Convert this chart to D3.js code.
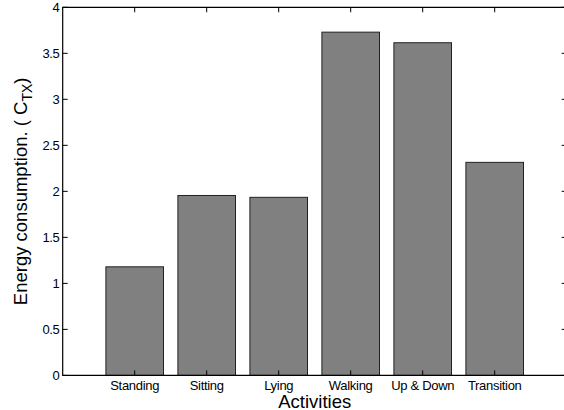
<!DOCTYPE html>
<html><head><meta charset="utf-8">
<script src="https://cdn.jsdelivr.net/npm/d3@7"></script>
<style>body{margin:0;background:#fff}svg{display:block}text{font-family:"Liberation Sans",Arial,sans-serif}</style>
</head><body><svg id="c" width="564" height="410"></svg>
<script>
const categories = ["Standing","Sitting","Lying","Walking","Up & Down","Transition"];
const values = [1.18, 1.955, 1.935, 3.73, 3.615, 2.315];
const yTicks = [0,0.5,1,1.5,2,2.5,3,3.5,4];
const yTickLabels = ["0","0.5","1","1.5","2","2.5","3","3.5","4"];

const svg = d3.select("#c");
const L = 62.7, R = 566.7, T = 7.3, B = 375.4;
const x = d3.scaleLinear().domain([0,7]).range([L,R]);
const y = d3.scaleLinear().domain([0,4]).range([B,T]);
const bw = (x(1)-x(0))*0.8;

svg.append("g").selectAll("rect").data(values).join("rect")
  .attr("x",(d,i)=>x(i+1)-bw/2).attr("y",d=>y(d))
  .attr("width",bw).attr("height",d=>y(0)-y(d))
  .attr("fill","#808080").attr("stroke","#222").attr("stroke-width",1);

const g = svg.append("g");
// box
g.append("path").attr("d",`M${L},${T}H${R}V${B}H${L}Z`).attr("fill","none").attr("stroke","#000").attr("stroke-width",1.2);
// y ticks
const yt = g.selectAll(".yt").data(yTicks).join("g");
yt.append("line").attr("x1",L).attr("x2",L+5).attr("y1",d=>y(d)).attr("y2",d=>y(d)).attr("stroke","#000");
yt.append("line").attr("x1",R).attr("x2",R-5).attr("y1",d=>y(d)).attr("y2",d=>y(d)).attr("stroke","#000");
yt.append("text").attr("x",L-3.5).attr("y",d=>y(d)).attr("dy","0.35em").attr("text-anchor","end")
  .attr("font-size",13).attr("letter-spacing","-0.5").text((d,i)=>yTickLabels[i]);
// x ticks
const xt = g.selectAll(".xt").data(categories).join("g");
xt.append("line").attr("x1",(d,i)=>x(i+1)).attr("x2",(d,i)=>x(i+1)).attr("y1",B).attr("y2",B-5).attr("stroke","#000");
xt.append("line").attr("x1",(d,i)=>x(i+1)).attr("x2",(d,i)=>x(i+1)).attr("y1",T).attr("y2",T+5).attr("stroke","#000");
xt.append("text").attr("x",(d,i)=>x(i+1)).attr("y",390).attr("text-anchor","middle")
  .attr("font-size",13).attr("letter-spacing","-0.3").text(d=>d);

svg.append("text").attr("x",(L+R)/2).attr("y",407.5).attr("text-anchor","middle")
  .attr("font-size",18.5).text("Activities");

const yl = svg.append("text").attr("transform",`translate(27,${(T+B)/2}) rotate(-90)`)
  .attr("text-anchor","middle").attr("font-size",18.5);
yl.append("tspan").text("Energy consumption. ( C");
yl.append("tspan").attr("font-size",14).attr("dy",5).text("TX");
yl.append("tspan").attr("dy",-5).text(")");
</script></body></html>
